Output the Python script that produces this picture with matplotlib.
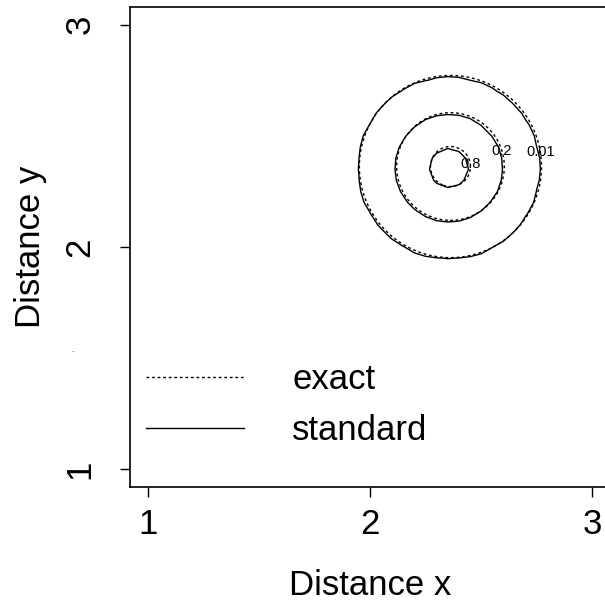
import matplotlib
matplotlib.use('Agg')
import matplotlib.pyplot as plt
import numpy as np

plt.rcParams['font.family'] = ['Liberation Sans', 'DejaVu Sans']

# contour levels and the two density surfaces (peak-normalised gaussians)
levels = [0.01, 0.2, 0.8]
exact_center = (2.362, 2.362)
exact_sd = 0.135
exact_step = 0.01
standard_center = (2.355, 2.355)
standard_sd = 0.134
standard_step = 0.05

label_pos = [(2.77, 2.43), (2.59, 2.43), (2.42, 2.37)]

xticks = [1, 2, 3]
yticks = [1, 2, 3]
legend_labels = ['exact', 'standard']


def surface(center, sd, step):
    g = np.arange(0.9, 3.1 + step / 2, step)
    xx, yy = np.meshgrid(g, g)
    zz = np.exp(-((xx - center[0]) ** 2 + (yy - center[1]) ** 2) / (2 * sd ** 2))
    return xx, yy, zz


def main():
    fig = plt.figure(figsize=(6.05, 6.11), dpi=100)
    ax = fig.add_axes([130 / 605, (611 - 487) / 611, 480 / 605, 480 / 611])

    xs, ys, zs = surface(standard_center, standard_sd, standard_step)
    ax.contour(xs, ys, zs, levels=levels, colors='black', linewidths=1.0)

    xe, ye, ze = surface(exact_center, exact_sd, exact_step)
    ce = ax.contour(xe, ye, ze, levels=levels, colors='black', linewidths=1.0,
                    linestyles=[(0, (2, 2))])
    texts = ax.clabel(ce, fmt='%g', fontsize=10.5, manual=label_pos, inline=False)
    for t in texts:
        t.set_rotation(0)

    ax.set_xlim(0.92, 3.08)
    ax.set_ylim(0.92, 3.08)
    ax.set_xticks(xticks)
    ax.set_yticks(yticks)
    ax.set_xticklabels([str(t) for t in xticks])
    ax.set_yticklabels([str(t) for t in yticks], rotation=90, va='center')
    ax.tick_params(labelsize=25, length=7, width=1.0)
    ax.tick_params(axis='x', pad=8)
    ax.tick_params(axis='y', pad=17)
    for s in ax.spines.values():
        s.set_linewidth(1.2)
    ax.set_xlabel('Distance x', fontsize=25, labelpad=20)
    ax.set_ylabel('Distance y', fontsize=25, labelpad=12)

    # legend without frame
    ax.plot([], [], color='black', lw=1.0, ls=(0, (2, 2)), label=legend_labels[0])
    ax.plot([], [], color='black', lw=1.0, label=legend_labels[1])
    handles, labels = ax.get_legend_handles_labels()
    ax.legend(handles[-2:], labels[-2:], loc='lower left', frameon=False,
              fontsize=25, handlelength=2.8, handletextpad=1.4,
              labelspacing=0.51, borderpad=0.4, bbox_to_anchor=(-0.031, 0.018))

    fig.text(72 / 605, 1 - 350 / 611, '.', fontsize=6, ha='center', va='center')

    fig.savefig('out.png', dpi=100)


if __name__ == '__main__':
    main()
